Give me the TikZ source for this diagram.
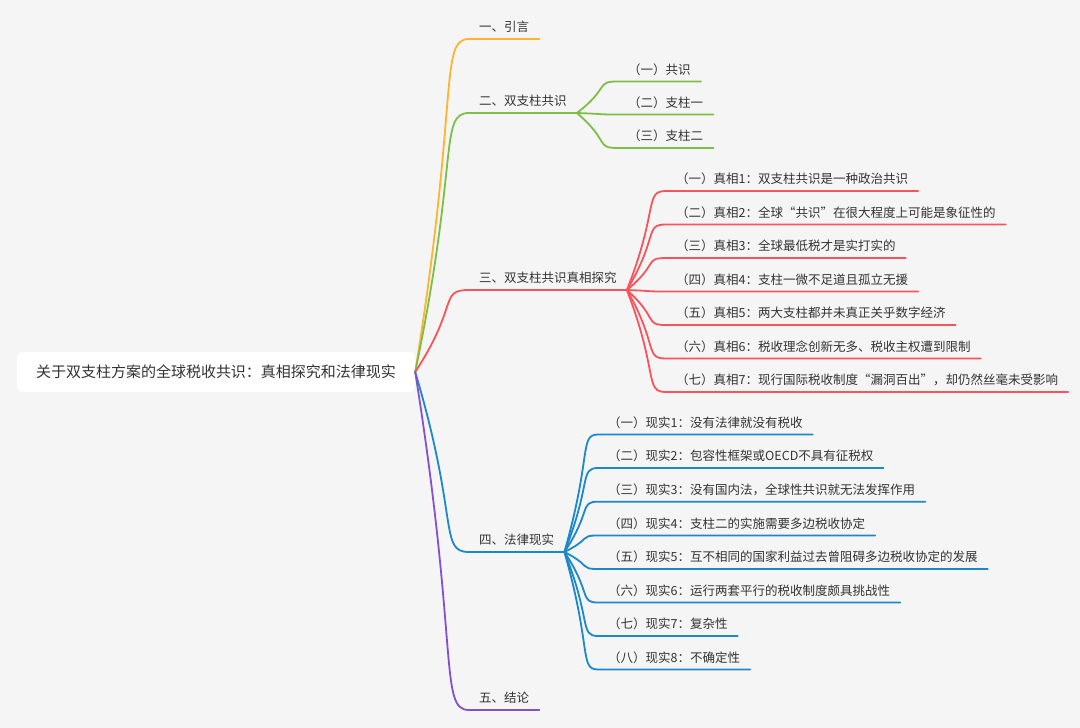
\documentclass[tikz,border=0pt]{standalone}
\usepackage{fontspec}
\newfontfamily\cjk{Noto Sans CJK SC}
\usetikzlibrary{calc}
\definecolor{bg}{HTML}{F5F5F5}
\definecolor{txt}{HTML}{333333}
\definecolor{yel}{HTML}{FBB52E}
\definecolor{grn}{HTML}{7DBE47}
\definecolor{rd}{HTML}{F9545C}
\definecolor{blu}{HTML}{1C87CC}
\definecolor{pur}{HTML}{8450D2}
\tikzset{
  topic/.style={anchor=south west, inner xsep=10pt, inner ysep=7pt, text depth=0pt, text=txt,
    font=\cjk\fontsize{12.5}{14}\selectfont},
  branch/.style={line width=1.8pt, line cap=round,
    to path={.. controls ($(\tikztostart)!.82!(\tikztotarget)$) and ($(\tikztotarget)!.56!(\tikztotarget -| \tikztostart)$) .. (\tikztotarget)}}
}
\begin{document}
\begin{tikzpicture}[x=1pt,y=-1pt]
    \useasboundingbox (0,0) rectangle (1080,728);
    \fill[bg] (0,0) rectangle (1080,728);
    \node[fill=white, rounded corners=6pt, minimum width=398pt, minimum height=40pt, text=txt,
      font=\cjk\fontsize{15}{17}\selectfont] (root) at (216,372) {关于双支柱方案的全球税收共识：真相探究和法律现实};
    % main branches
    \node[topic] (intro) at (469,39) {一、引言};
    \node[topic] (pillar) at (469,113) {二、双支柱共识};
    \node[topic] (truth) at (469,290) {三、双支柱共识真相探究};
    \node[topic] (law) at (469,552) {四、法律现实};
    \node[topic] (concl) at (469,710) {五、结论};
    \draw[branch, yel] (root.east) to (intro.south west) -- (intro.south east);
    \draw[branch, grn] (root.east) to (pillar.south west) -- (pillar.south east);
    \draw[branch, rd] (root.east) to (truth.south west) -- (truth.south east);
    \draw[branch, blu] (root.east) to (law.south west) -- (law.south east);
    \draw[branch, pur] (root.east) to (concl.south west) -- (concl.south east);
    % pillar
    \node[topic] (p1) at (618,81.5) {（一）共识};
    \node[topic] (p2) at (618,114.5) {（二）支柱一};
    \node[topic] (p3) at (618,148) {（三）支柱二};
    \draw[branch, grn] (pillar.south east) to (p1.south west) -- (p1.south east);
    \draw[branch, grn] (pillar.south east) to (p2.south west) -- (p2.south east);
    \draw[branch, grn] (pillar.south east) to (p3.south west) -- (p3.south east);
    % truth
    \node[topic] (t1) at (666,191) {（一）真相1：双支柱共识是一种政治共识};
    \node[topic] (t2) at (666,224.5) {（二）真相2：全球“共识”在很大程度上可能是象征性的};
    \node[topic] (t3) at (666,258) {（三）真相3：全球最低税才是实打实的};
    \node[topic] (t4) at (666,291.5) {（四）真相4：支柱一微不足道且孤立无援};
    \node[topic] (t5) at (666,325) {（五）真相5：两大支柱都并未真正关乎数字经济};
    \node[topic] (t6) at (666,358.5) {（六）真相6：税收理念创新无多、税收主权遭到限制};
    \node[topic] (t7) at (666,392) {（七）真相7：现行国际税收制度“漏洞百出”，却仍然丝毫未受影响};
    \draw[branch, rd] (truth.south east) to (t1.south west) -- (t1.south east);
    \draw[branch, rd] (truth.south east) to (t2.south west) -- (t2.south east);
    \draw[branch, rd] (truth.south east) to (t3.south west) -- (t3.south east);
    \draw[branch, rd] (truth.south east) to (t4.south west) -- (t4.south east);
    \draw[branch, rd] (truth.south east) to (t5.south west) -- (t5.south east);
    \draw[branch, rd] (truth.south east) to (t6.south west) -- (t6.south east);
    \draw[branch, rd] (truth.south east) to (t7.south west) -- (t7.south east);
    % law
    \node[topic] (r1) at (598,434.5) {（一）现实1：没有法律就没有税收};
    \node[topic] (r2) at (598,468) {（二）现实2：包容性框架或OECD不具有征税权};
    \node[topic] (r3) at (598,501.7) {（三）现实3：没有国内法，全球性共识就无法发挥作用};
    \node[topic] (r4) at (598,535.5) {（四）现实4：支柱二的实施需要多边税收协定};
    \node[topic] (r5) at (598,569) {（五）现实5：互不相同的国家利益过去曾阻碍多边税收协定的发展};
    \node[topic] (r6) at (598,602.5) {（六）现实6：运行两套平行的税收制度颇具挑战性};
    \node[topic] (r7) at (598,636) {（七）现实7：复杂性};
    \node[topic] (r8) at (598,669.5) {（八）现实8：不确定性};
    \draw[branch, blu] (law.south east) to (r1.south west) -- (r1.south east);
    \draw[branch, blu] (law.south east) to (r2.south west) -- (r2.south east);
    \draw[branch, blu] (law.south east) to (r3.south west) -- (r3.south east);
    \draw[branch, blu] (law.south east) to (r4.south west) -- (r4.south east);
    \draw[branch, blu] (law.south east) to (r5.south west) -- (r5.south east);
    \draw[branch, blu] (law.south east) to (r6.south west) -- (r6.south east);
    \draw[branch, blu] (law.south east) to (r7.south west) -- (r7.south east);
    \draw[branch, blu] (law.south east) to (r8.south west) -- (r8.south east);
\end{tikzpicture}
\end{document}
